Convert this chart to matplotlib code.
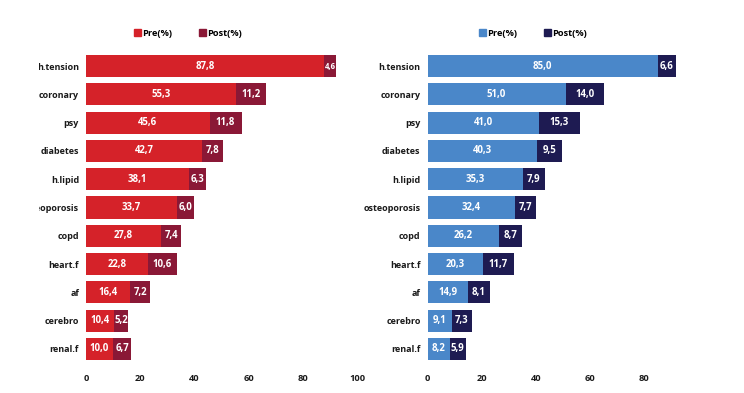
import matplotlib
matplotlib.use("Agg")
import matplotlib.pyplot as plt
from matplotlib.patches import Patch
from matplotlib.transforms import Bbox

categories = ["h.tension", "coronary", "psy", "diabetes", "h.lipid", "osteoporosis",
              "copd", "heart.f", "af", "cerebro", "renal.f"]
left_pre = [87.8, 55.3, 45.6, 42.7, 38.1, 33.7, 27.8, 22.8, 16.4, 10.4, 10.0]
left_post = [4.6, 11.2, 11.8, 7.8, 6.3, 6.0, 7.4, 10.6, 7.2, 5.2, 6.7]
right_pre = [85.0, 51.0, 41.0, 40.3, 35.3, 32.4, 26.2, 20.3, 14.9, 9.1, 8.2]
right_post = [6.6, 14.0, 15.3, 9.5, 7.9, 7.7, 8.7, 11.7, 8.1, 7.3, 5.9]
left_ticks = [0, 20, 40, 60, 80, 100]
right_ticks = [0, 20, 40, 60, 80]
series_names = ["Pre(%)", "Post(%)"]

plt.rcParams['font.family'] = ['Open Sans', 'DejaVu Sans']
plt.rcParams['font.weight'] = 'bold'

W, H = 744, 393
FS = 6.5
fig = plt.figure(figsize=(W / 100, H / 100), dpi=100)

def px_ax(x0, x1, y_top, y_bot):
    return fig.add_axes([x0 / W, 1 - y_bot / H, (x1 - x0) / W, (y_bot - y_top) / H])

ax_l = px_ax(86, 357, 51.9, 363.1)
ax_r = px_ax(427.5, 698.5, 51.9, 363.1)

def fmt(v):
    return f"{v:.1f}".replace(".", ",")

def draw(ax, pre, post, c_pre, c_post, ticks, clip_left=None):
    y = list(range(len(categories)))
    b1 = ax.barh(y, pre, height=0.78, color=c_pre)
    b2 = ax.barh(y, post, left=pre, height=0.78, color=c_post)
    ax.bar_label(b1, labels=[fmt(v) for v in pre], label_type='center',
                 color='white', fontsize=6.9, fontweight='bold')
    lbls = ax.bar_label(b2, labels=[fmt(v) for v in post], label_type='center',
                        color='white', fontsize=6.9, fontweight='bold')
    for t, v in zip(lbls, post):
        if v < 5:
            t.set_fontsize(5.6)
    ax.set_xlim(0, 100)
    ax.set_ylim(len(categories) - 0.5, -0.5)
    ax.set_yticks(y)
    ax.set_yticklabels(categories, fontsize=FS, fontweight='bold', color='#1a1a1a')
    ax.set_xticks(ticks)
    ax.set_xticklabels([str(t) for t in ticks], fontsize=6.7, fontweight='bold', color='#1a1a1a')
    ax.tick_params(axis='both', length=0)
    ax.tick_params(axis='y', pad=5)
    ax.tick_params(axis='x', pad=8)
    for s in ax.spines.values():
        s.set_visible(False)
    if clip_left is not None:
        bb = Bbox.from_extents(clip_left, 0, W, H)
        for t in ax.get_yticklabels():
            t.set_clip_on(True)
            t.set_clip_box(bb)

draw(ax_l, left_pre, left_post, '#d52229', '#8a1836', left_ticks, clip_left=39)
draw(ax_r, right_pre, right_post, '#4a87c9', '#1e1b52', right_ticks)

def legend(c1, c2, cx):
    handles = [Patch(color=c1), Patch(color=c2)]
    fig.legend(handles, series_names, loc='center', ncol=2,
               bbox_to_anchor=(cx / W, 1 - 33 / H), frameon=False,
               handlelength=0.75, handleheight=0.75, handletextpad=0.15,
               columnspacing=2.9, prop={'size': 6.7, 'weight': 'bold'})

legend('#d52229', '#8a1836', 188)
legend('#4a87c9', '#1e1b52', 533)

fig.savefig("out.png", dpi=100)
